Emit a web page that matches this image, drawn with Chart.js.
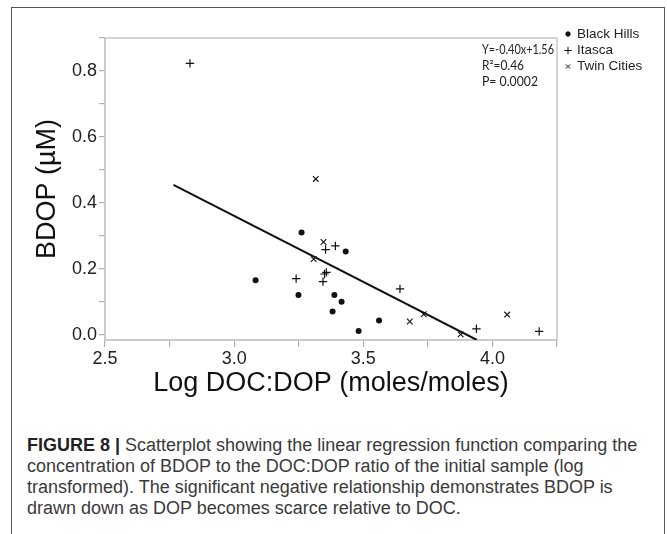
<!DOCTYPE html>
<html><head><meta charset="utf-8">
<script src="https://cdn.jsdelivr.net/npm/chart.js@4.4.0/dist/chart.umd.min.js"></script>
<style>
html,body{margin:0;padding:0;background:#fff;}
body{width:667px;height:534px;position:relative;overflow:hidden;font-family:"Liberation Sans",Arial,sans-serif;}
#frame{position:absolute;left:11px;top:7px;width:654px;height:600px;border:1.5px solid #555;box-sizing:border-box;}
#wrap{position:absolute;left:0;top:0;width:667px;height:410px;}
#caption{position:absolute;left:27px;top:435px;font-size:18px;line-height:21px;color:#3a3a3a;white-space:nowrap;}
#caption b{color:#222;}
</style></head><body>
<div id="frame"></div>
<div id="wrap"><canvas id="c" width="667" height="410"></canvas></div>
<div id="caption"><b>FIGURE 8 |</b> Scatterplot showing the linear regression function comparing the<br>concentration of BDOP to the DOC:DOP ratio of the initial sample (log<br>transformed). The significant negative relationship demonstrates BDOP is<br>drawn down as DOP becomes scarce relative to DOC.</div>
<script>
// ---- data ----
const seriesNames = ['Black Hills', 'Itasca', 'Twin Cities'];
const blackHillsX = [3.261, 3.432, 3.083, 3.249, 3.388, 3.416, 3.381, 3.482, 3.561];
const blackHillsY = [0.311, 0.253, 0.166, 0.121, 0.121, 0.101, 0.071, 0.012, 0.044];
const itascaX = [2.829, 3.354, 3.392, 3.240, 3.357, 3.350, 3.344, 3.642, 3.938, 4.181];
const itascaY = [0.823, 0.259, 0.270, 0.171, 0.190, 0.185, 0.162, 0.140, 0.019, 0.011];
const twinCitiesX = [3.316, 3.346, 3.308, 3.680, 3.734, 3.877, 4.057];
const twinCitiesY = [0.473, 0.282, 0.230, 0.041, 0.063, 0.002, 0.062];
const fitLineX = [2.765, 3.94];
const fitLineY = [0.455, -0.015];
const statLines = ['Y=-0.40x+1.56', 'R\u00B2=0.46', 'P= 0.0002'];
const xTitle = 'Log DOC:DOP (moles/moles)';
const yTitle = 'BDOP (\u00B5M)';

const pts = (xs, ys) => xs.map((x, i) => ({x, y: ys[i]}));

const frameAndLegend = {
  id: 'frameAndLegend',
  beforeDatasetsDraw(chart) {
    const {ctx, chartArea: a} = chart;
    ctx.save();
    ctx.strokeStyle = '#c8c8c8';
    ctx.lineWidth = 1.5;
    ctx.strokeRect(a.left, a.top, a.right - a.left, a.bottom - a.top);
    ctx.restore();
  },
  afterDraw(chart) {
    const {ctx} = chart;
    ctx.save();
    // legend
    const legRows = [34, 50.5, 66.5];
    const legSizes = [2.2, 3.6, 3.0];
    for (let i = 0; i < 3; i++) {
      const ds = chart.data.datasets[i];
      ctx.fillStyle = '#111';
      ctx.strokeStyle = '#111';
      Chart.helpers.drawPoint(ctx, {
        pointStyle: ds.pointStyle, radius: legSizes[i], borderWidth: 1.1, rotation: 0
      }, 568, legRows[i]);
      if (ds.pointStyle === 'circle') ctx.fill();
    }
    ctx.fillStyle = '#222';
    ctx.font = '13.5px "Liberation Sans", Arial, sans-serif';
    ctx.textBaseline = 'middle';
    ctx.textAlign = 'left';
    for (let i = 0; i < 3; i++) ctx.fillText(seriesNames[i], 577, legRows[i]);
    // regression statistics
    ctx.font = '13px Lato, "Liberation Sans", sans-serif';
    ctx.fillStyle = '#222';
    const statRows = [50, 66, 82];
    const statWidths = [72, 42, 56];
    statLines.forEach((t, i) => ctx.fillText(t, 482, statRows[i], statWidths[i]));
    ctx.restore();
  }
};

Chart.defaults.font.family = '"Liberation Sans", Arial, sans-serif';

new Chart(document.getElementById('c'), {
  type: 'scatter',
  data: {
    datasets: [
      {label: seriesNames[0], data: pts(blackHillsX, blackHillsY), pointStyle: 'circle', pointRadius: 3,
       backgroundColor: '#111', borderColor: '#111', borderWidth: 0},
      {label: seriesNames[1], data: pts(itascaX, itascaY), pointStyle: 'cross', pointRadius: 4.2,
       backgroundColor: '#111', borderColor: '#111', borderWidth: 1.2},
      {label: seriesNames[2], data: pts(twinCitiesX, twinCitiesY), pointStyle: 'crossRot', pointRadius: 4,
       backgroundColor: '#111', borderColor: '#111', borderWidth: 1.1},
      {type: 'line', label: 'fit', data: pts(fitLineX, fitLineY), borderColor: '#111', borderWidth: 2,
       pointRadius: 0, fill: false, tension: 0}
    ]
  },
  options: {
    responsive: false,
    animation: false,
    events: [],
    layout: {padding: {left: 0, top: 38, right: 110, bottom: 0}},
    plugins: {legend: {display: false}, tooltip: {enabled: false}},
    scales: {
      x: {
        type: 'linear', min: 2.5, max: 4.25,
        afterFit: s => { s.height = 70; },
        ticks: {
          stepSize: 0.25, includeBounds: false, color: '#222', padding: 1, maxRotation: 0,
          font: {size: 18},
          callback: v => (Math.abs(v * 2 - Math.round(v * 2)) < 1e-6 ? v.toFixed(1) : '')
        },
        grid: {drawOnChartArea: false, drawTicks: true, tickLength: 7, color: '#b0b0b0', lineWidth: 1.2},
        border: {display: true, color: '#c8c8c8', width: 1.5},
        title: {display: true, text: xTitle, color: '#111', font: {size: 27}, padding: {top: 0, bottom: 10}}
      },
      y: {
        type: 'linear', min: -0.015, max: 0.9,
        afterFit: s => { s.width = 105; },
        ticks: {
          stepSize: 0.1, includeBounds: false, color: '#222', padding: 2,
          font: {size: 18},
          callback: v => (Math.round(v * 10) % 2 === 0 ? (Math.abs(v) < 1e-9 ? '0.0' : v.toFixed(1)) : '')
        },
        grid: {drawOnChartArea: false, drawTicks: true, tickLength: 6, color: '#b0b0b0', lineWidth: 1.2},
        border: {display: true, color: '#c8c8c8', width: 1.5},
        title: {display: true, text: yTitle, color: '#111', font: {size: 27}, padding: {top: 31, bottom: 0}}
      }
    }
  },
  plugins: [frameAndLegend]
});
</script>
</body></html>
